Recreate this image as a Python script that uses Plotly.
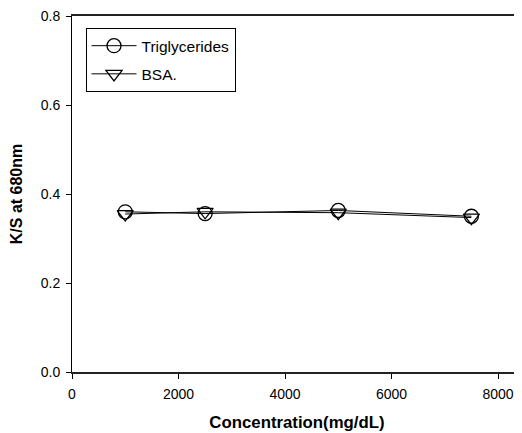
import plotly.graph_objects as go

conc = [1000, 2500, 5000, 7500]
trig = [0.360, 0.356, 0.363, 0.350]
bsa = [0.355, 0.360, 0.358, 0.347]
x_ticks = [0, 2000, 4000, 6000, 8000]
y_ticks = [0.0, 0.2, 0.4, 0.6, 0.8]

fig = go.Figure()
fig.add_trace(go.Scatter(x=conc, y=trig, mode="lines+markers", name="Triglycerides",
                         legendgroup="a",
                         line=dict(color="black", width=1),
                         marker=dict(symbol="circle-open", size=14, color="black", line=dict(width=1.3))))
fig.add_trace(go.Scatter(x=conc, y=bsa, mode="lines+markers", name="BSA.",
                         legendgroup="b",
                         line=dict(color="black", width=1),
                         marker=dict(symbol="triangle-down-open", size=14, color="black", line=dict(width=1.3))))

# page body has an 8px margin; compensate so the plot sits where the reference has it
fig.update_layout(
    width=514, height=425,
    margin=dict(l=64, r=0, t=6, b=61),
    paper_bgcolor="white", plot_bgcolor="white",
    font=dict(family="Liberation Sans, Arial", size=14, color="black"),
    showlegend=True,
    legend=dict(x=0.03, y=0.966, xanchor="left", yanchor="top",
                bordercolor="black", borderwidth=1, bgcolor="white",
                font=dict(size=15.5), tracegroupgap=5, traceorder="grouped",
                itemwidth=45),
    xaxis=dict(range=[0, 8450], tickvals=x_ticks, ticktext=[str(v) for v in x_ticks],
               showgrid=False, zeroline=False, showline=True, linecolor="#222", linewidth=1.5,
               ticks="outside", ticklen=5, tickcolor="black", mirror=True,
               ticklabelstandoff=3, ticklabeloverflow="allow",
               title=dict(text="<b>Concentration(mg/dL)</b>", font=dict(size=16.8), standoff=16)),
    yaxis=dict(range=[0, 0.8], tickvals=y_ticks, ticktext=[f"{v:.1f}" for v in y_ticks],
               showgrid=False, zeroline=False, showline=True, linecolor="black", linewidth=1,
               ticks="outside", ticklen=5, tickcolor="black", ticklabelstandoff=3,
               ticklabeloverflow="allow",
               title=dict(text="<b>K/S at 680nm</b>", font=dict(size=16), standoff=15)),
)

fig.write_html("out.html")
